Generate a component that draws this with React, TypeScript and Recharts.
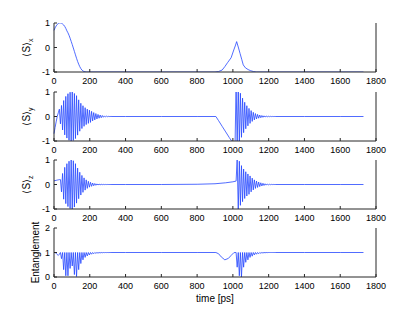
import React from 'react';
import { LineChart, Line, XAxis, YAxis } from 'recharts';

const xTicks = [0, 200, 400, 600, 800, 1000, 1200, 1400, 1600, 1800];
const spinTicks = [-1, 0, 1];
const entTicks = [0, 1, 2];

// shared sample times of the two oscillating bursts
const timeA = [0, 6, 12, 18, 24, 30, 36, 42, 48, 54, 60, 66, 72, 78, 84, 90, 96, 102, 108, 114, 120, 126, 132, 138, 144, 150, 156, 162, 168, 174, 180, 186, 192, 198, 204, 210, 216, 222, 228, 234, 240, 246, 252, 258, 264, 270, 276, 282, 288, 294, 300, 306, 312, 318, 324];
const timeB = [1018, 1024, 1030, 1036, 1042, 1048, 1054, 1060, 1066, 1072, 1078, 1084, 1090, 1096, 1102, 1108, 1114, 1120, 1126, 1132, 1138, 1144, 1150, 1156, 1162, 1168, 1174, 1180, 1186, 1192, 1198, 1204, 1210, 1216, 1222, 1228, 1234, 1240];
const tailTime = [1400, 1600, 1730];

// <S>_x
const sxTime = [0, 6, 12, 18, 24, 30, 36, 42, 48, 54, 60, 66, 72, 78, 84, 90, 96, 102, 108, 114, 120, 126, 132, 138, 144, 150, 156, 162, 168, 174, 180, 400, 600, 800, 900, 920, 940, 955, 970, 990, 1005, 1015, 1021, 1030, 1040, 1050, 1058, 1070, 1085, 1100, 1115, 1130, 1400, 1600, 1730];
const sxValue = [0.7, 0.8, 0.88, 0.94, 0.98, 1.0, 1.0, 0.99, 0.96, 0.92, 0.86, 0.78, 0.68, 0.6, 0.5, 0.38, 0.25, 0.12, -0.02, -0.16, -0.3, -0.44, -0.57, -0.68, -0.78, -0.86, -0.92, -0.96, -0.98, -0.99, -1, -1, -1, -1, -1, -0.98, -0.92, -0.78, -0.62, -0.42, -0.1, 0.1, 0.24, 0.02, -0.24, -0.5, -0.71, -0.83, -0.9, -0.95, -0.98, -1, -1, -1, -1];

// <S>_y
const syA = [-0.7, -0.45, -0.22, 0, 0.15, 0.3, -0.3, 0.45, -0.55, 0.65, -0.75, 0.82, -0.88, 0.93, -0.97, 0.99, -1.0, 1.0, -0.98, 0.94, -0.9, 0.85, -0.76, 0.68, -0.6, 0.54, -0.49, 0.44, -0.4, 0.36, -0.33, 0.3, -0.28, 0.26, -0.24, 0.21, -0.18, 0.16, -0.14, 0.12, -0.1, 0.085, -0.07, 0.06, -0.05, 0.04, -0.03, 0.025, -0.02, 0.015, -0.01, 0.008, -0.005, 0.003, 0];
const syMidTime = [400, 600, 800, 905, 920, 940, 960, 980, 993, 1005, 1012];
const syMid = [0, 0, 0, 0, -0.17, -0.4, -0.63, -0.86, -1.0, -1.15, -1.2];
const syB = [1.3, -1.2, 1.3, -1.1, 0.95, -0.85, 0.75, -0.66, 0.58, -0.5, 0.44, -0.38, 0.33, -0.28, 0.24, -0.2, 0.17, -0.14, 0.12, -0.1, 0.085, -0.07, 0.06, -0.05, 0.04, -0.033, 0.027, -0.022, 0.018, -0.014, 0.011, -0.008, 0.006, -0.004, 0.003, -0.002, 0.001, 0];
const syTail = [0, 0, 0];

// <S>_z
const szA = [0.15, 0.16, 0.17, 0.18, 0.19, 0.2, 0.2, -0.3, 0.45, -0.6, 0.7, -0.78, 0.85, -0.9, 0.95, -0.98, 1.0, -1.0, 0.97, -0.92, 0.85, -0.76, 0.67, -0.58, 0.5, -0.43, 0.37, -0.32, 0.27, -0.23, 0.19, -0.16, 0.13, -0.11, 0.09, -0.075, 0.06, -0.05, 0.04, -0.032, 0.025, -0.02, 0.015, -0.012, 0.009, -0.007, 0.005, -0.004, 0.003, -0.002, 0.001, 0, 0, 0, 0];
const szMidTime = [400, 600, 800, 900, 960, 1000, 1012];
const szMid = [0, 0, 0.01, 0.03, 0.07, 0.11, 0.13];
const szB = [0.14, 1.05, -1.05, 0.95, -0.85, 0.77, -0.7, 0.63, -0.57, 0.52, -0.47, 0.43, -0.4, 0.35, -0.3, 0.26, -0.22, 0.19, -0.16, 0.14, -0.12, 0.1, -0.085, 0.07, -0.06, 0.05, -0.04, 0.03, -0.025, 0.02, -0.015, 0.01, -0.007, 0.005, -0.003, 0.002, -0.001, 0];
const szTail = [0, 0, 0];

// Entanglement
const entA = [1, 1, 0.97, 0.92, 0.88, 0.93, 1, 0.75, 1, 0.3, 1, 0.05, 1, 0.05, 1, 0.35, 1, 0.45, 1, 0.1, 1, 0.02, 1, 0.3, 1, 0.55, 1, 0.7, 1, 0.8, 1, 0.86, 1, 0.9, 1, 0.93, 1, 0.95, 1, 0.965, 1, 0.975, 1, 0.985, 1, 0.99, 1, 0.995, 1, 0.997, 1, 0.998, 1, 0.999, 1];
const entMidTime = [400, 600, 800, 905, 920, 935, 955, 975, 990, 1005, 1012];
const entMid = [1, 1, 1, 1, 0.95, 0.82, 0.7, 0.76, 0.88, 0.99, 1];
const entB = [1, 0.4, 1, 0.05, 1, 0.0, 1, 0.4, 1, 0.6, 1, 0.7, 1, 0.8, 1, 0.85, 1, 0.9, 1, 0.93, 1, 0.95, 1, 0.97, 1, 0.98, 1, 0.99, 1, 0.995, 1, 1, 1, 1, 1, 1, 1, 1];
const entTail = [1, 1, 1];

type Row = { t: number; v: number };
const zip = (t: number[], v: number[]): Row[] =>
  t.slice(0, Math.min(t.length, v.length)).map((x, i) => ({ t: x, v: v[i] }));

const sxRows = zip(sxTime, sxValue);
const syRows = [...zip(timeA, syA), ...zip(syMidTime, syMid), ...zip(timeB, syB), ...zip(tailTime, syTail)];
const szRows = [...zip(timeA, szA), ...zip(szMidTime, szMid), ...zip(timeB, szB), ...zip(tailTime, szTail)];
const entRows = [...zip(timeA, entA), ...zip(entMidTime, entMid), ...zip(timeB, entB), ...zip(tailTime, entTail)];

const FONT = '"Liberation Sans", Arial, Helvetica, sans-serif';
const LINE = '#2546ff';
const AXIS = '#262626';
const PLOT_H = 49;
const PAD_TOP = 8;

type PanelProps = {
  rows: Row[];
  top: number;
  domain: [number, number];
  ticks: number[];
  ylabel: 'x' | 'y' | 'z' | 'ent';
  xlabel?: string;
};

function Panel({ rows, top, domain, ticks, ylabel, xlabel }: PanelProps) {
  const axisH = xlabel ? 34 : 22;
  const height = PAD_TOP + PLOT_H + axisH;
  const tickStyle = { fill: '#000', fontSize: 9, fontFamily: FONT };
  const yLabel = (p: any) => {
    const vb = p.viewBox || {};
    const cy = (vb.y || 0) + (vb.height || 0) / 2;
    if (ylabel === 'ent') {
      return (
        <text transform={`translate(39,${cy}) rotate(-90)`} textAnchor="middle" fontSize={10} fontFamily={FONT} fill="#000">
          Entanglement
        </text>
      );
    }
    return (
      <text transform={`translate(29.5,${cy}) rotate(-90)`} textAnchor="middle" fontSize={10} fontFamily={FONT} fill="#000">
        ⟨S⟩<tspan dy={3} fontSize={7}>{ylabel}</tspan>
      </text>
    );
  };
  const xLabel = (p: any) => {
    const vb = p.viewBox || {};
    return (
      <text x={(vb.x || 0) + (vb.width || 0) / 2} y={(vb.y || 0) + 25} textAnchor="middle" fontSize={10} fontFamily={FONT} fill="#000">
        {xlabel}
      </text>
    );
  };
  return (
    <div style={{ position: 'absolute', left: 0, top: top - PAD_TOP, width: 415, height }}>
      <LineChart width={415} height={height} data={rows} margin={{ top: PAD_TOP, right: 0, bottom: 0, left: 0 }}>
        <XAxis
          dataKey="t"
          type="number"
          domain={[0, 1800]}
          ticks={xTicks}
          interval={0}
          tickSize={-3}
          tickMargin={9}
          height={axisH}
          stroke={AXIS}
          tick={tickStyle}
          label={xlabel ? xLabel : undefined}
        />
        <XAxis
          xAxisId="top"
          orientation="top"
          type="number"
          domain={[0, 1800]}
          ticks={xTicks}
          interval={0}
          tickSize={-3}
          tick={false}
          height={0}
          stroke={AXIS}
        />
        <YAxis
          type="number"
          domain={domain}
          ticks={ticks}
          interval={0}
          tickSize={-3}
          tickMargin={7}
          width={54}
          allowDataOverflow
          stroke={AXIS}
          tick={tickStyle}
          label={yLabel}
        />
        <YAxis
          yAxisId="r"
          orientation="right"
          type="number"
          domain={domain}
          ticks={ticks}
          interval={0}
          tickSize={-3}
          tick={false}
          width={39}
          stroke={AXIS}
        />
        <Line dataKey="v" type="linear" stroke={LINE} strokeWidth={0.8} dot={false} isAnimationActive={false} />
      </LineChart>
    </div>
  );
}

export default function App() {
  return (
    <div style={{ position: 'absolute', left: 0, top: 0, width: 415, height: 312, background: '#fff' }}>
      <Panel rows={sxRows} top={23} domain={[-1, 1]} ticks={spinTicks} ylabel="x" />
      <Panel rows={syRows} top={92} domain={[-1, 1]} ticks={spinTicks} ylabel="y" />
      <Panel rows={szRows} top={160} domain={[-1, 1]} ticks={spinTicks} ylabel="z" />
      <Panel rows={entRows} top={228} domain={[0, 2]} ticks={entTicks} ylabel="ent" xlabel="time [ps]" />
    </div>
  );
}
